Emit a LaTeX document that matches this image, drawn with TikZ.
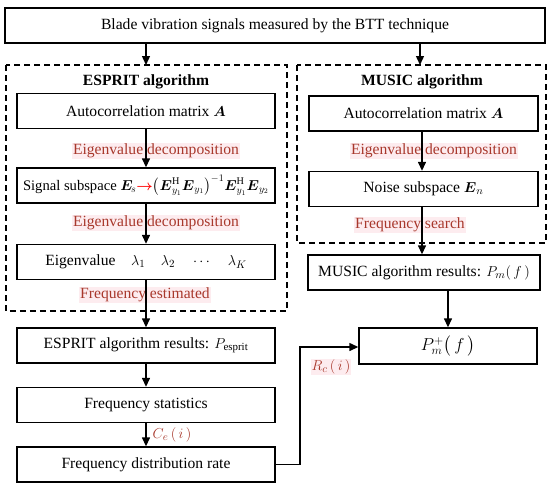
\documentclass[tikz,border=0pt]{standalone}
\usepackage{fontspec}
\usepackage{amsmath,amssymb}
\setmainfont{Liberation Serif}
\usetikzlibrary{arrows.meta}
\definecolor{lblred}{HTML}{A8382C}
\definecolor{lblbg}{HTML}{FDECEF}
\begin{document}
\begin{tikzpicture}[x=1pt,y=-1pt,
  box/.style={draw,line width=1.4pt,minimum height=35pt,inner sep=0pt,font=\fontsize{15.6}{17}\selectfont},
  dbox/.style={draw,line width=1.4pt,dash pattern=on 6pt off 4pt},
  lbl/.style={fill=lblbg,text=lblred,inner sep=1pt,font=\fontsize{15.6}{17}\selectfont},
  ttl/.style={font=\fontsize{15.6}{17}\selectfont\bfseries},
  arr/.style={line width=1.4pt,-{Triangle[length=9pt,width=8pt]}}]
\useasboundingbox (0,0) rectangle (550,491);
\fill[white] (0,0) rectangle (550,491);
% top
\node[box,minimum width=540pt] (top) at (275,25.5) {Blade vibration signals measured by the BTT technique};
% dashed groups
\draw[dbox] (6,65) rectangle (287,311);
\draw[dbox] (297,65) rectangle (546,243);
\coordinate (ein) at (146,65);
\coordinate (min) at (420,65);
\node[ttl] (et) at (146,82) {ESPRIT algorithm};
\node[ttl] (mt) at (422,82) {MUSIC algorithm};
% ESPRIT column
\node[box,minimum width=258pt] (ea) at (146,111) {Autocorrelation matrix $\boldsymbol{A}$};
\node[box,minimum width=258pt,font=\fontsize{14.6}{16}\selectfont] (es) at (146,185.5) {Signal subspace $\boldsymbol{E}_{\!s}${\color{red}$\boldsymbol{\rightarrow}$}$\bigl(\boldsymbol{E}_{y_1}^{\mathrm{H}}\boldsymbol{E}_{y_1}\bigr)^{-1}\boldsymbol{E}_{y_1}^{\mathrm{H}}\boldsymbol{E}_{y_2}$};
\node[box,minimum width=258pt] (ee) at (146,262) {Eigenvalue\quad$\lambda_1\quad\lambda_2\quad\cdots\quad\lambda_K$};
\node[box,minimum width=258pt] (er) at (146,345.5) {ESPRIT algorithm results: $P_{\mathrm{esprit}}$};
\node[box,minimum width=258pt] (ef) at (146,405) {Frequency statistics};
\node[box,minimum width=258pt] (ed) at (146,464.5) {Frequency distribution rate};
% MUSIC column
\node[box,minimum width=229pt] (ma) at (423.5,113.5) {Autocorrelation matrix $\boldsymbol{A}$};
\node[box,minimum width=229pt] (mn) at (423.5,189) {Noise subspace $\boldsymbol{E}_n$};
\node[box,minimum width=232pt] (mr) at (424,272.5) {MUSIC algorithm results: $P_m(\,f\,)$};
\node[box,minimum width=178pt,minimum height=36pt,font=\fontsize{17}{19}\selectfont] (pp) at (448,346) {$P^{+}_{m}\bigl(\,f\,\bigr)$};
% labels
\node[lbl] (l1) at (156,151) {Eigenvalue decomposition};
\node[lbl] (l2) at (156,223) {Eigenvalue decomposition};
\node[lbl] (l3) at (145,295) {Frequency estimated};
\node[lbl] (l4) at (434,151) {Eigenvalue decomposition};
\node[lbl] (l5) at (410,225) {Frequency search};
% arrows
\draw[arr] (top.south -| ein) -- (ein);
\draw[arr] (top.south -| min) -- (min);
\draw[arr] (ea) -- (es);
\draw[arr] (es) -- (ee);
\draw[arr] (ee) -- (er);
\draw[arr] (er) -- (ef);
\draw[arr] (ef) -- node[right,text=lblred,font=\fontsize{15.6}{17}\selectfont,inner sep=6pt] {$C_e\,(\,i\,)$} (ed);
\draw[arr] (ma.south -| 422,0) -- (mn.north -| 422,0);
\draw[arr] (mn.south -| 422,0) -- (mr.north -| 422,0);
\draw[arr] (mr.south -| pp.north) -- (pp.north);
\draw[arr] (ed.east) -- (300,464.5) -- (300,347) -- (pp.west |- 0,347);
\node[lbl,anchor=center] (rc) at (331,367) {$R_c\,(\,i\,)$};
\end{tikzpicture}
\end{document}
